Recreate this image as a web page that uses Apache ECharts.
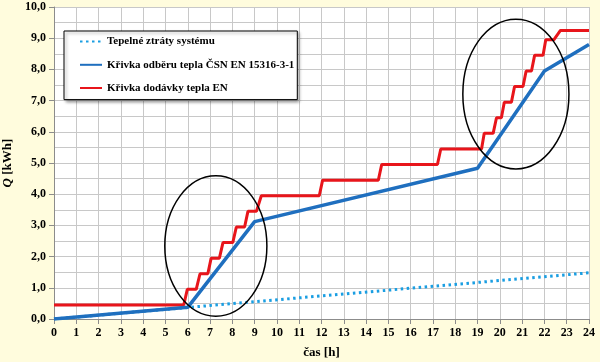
<!DOCTYPE html>
<html>
<head>
<meta charset="utf-8">
<script src="https://cdn.jsdelivr.net/npm/echarts@6/dist/echarts.min.js"></script>
<style>
html,body{margin:0;padding:0;background:#FFFCDD;}
#c{width:600px;height:362px;}
</style>
</head>
<body>
<div id="c"></div>
<script>
// Data (hours, kWh)
const lossName = 'Tepelné ztráty systému';
const demandName = 'Křivka odběru tepla ČSN EN 15316-3-1';
const supplyName = 'Křivka dodávky tepla EN';

const lossX = [0, 24];
const lossY = [0, 1.48];

const demandX = [0, 6, 9, 19, 22, 24];
const demandY = [0, 0.375, 3.12, 4.83, 7.95, 8.8];

const supplyX = [0, 5.82, 5.98, 6.38, 6.55, 6.9, 7.05, 7.42, 7.58, 8.02, 8.18, 8.55, 8.7, 9.08, 9.3,
  11.9, 12.05, 14.55, 14.7, 17.2, 17.35, 19.18, 19.3, 19.7, 19.85, 20.07, 20.2, 20.52, 20.66, 21.04,
  21.18, 21.42, 21.56, 21.94, 22.06, 22.42, 22.72, 24];
const supplyY = [0.45, 0.45, 0.95, 0.95, 1.45, 1.45, 1.95, 1.95, 2.45, 2.45, 2.95, 2.95, 3.45, 3.45, 3.95,
  3.95, 4.45, 4.45, 4.95, 4.95, 5.45, 5.45, 5.95, 5.95, 6.45, 6.45, 6.95, 6.95, 7.45, 7.45,
  7.95, 7.95, 8.45, 8.45, 8.95, 8.95, 9.25, 9.25];

// highlight ellipses: center x (h), center y (kWh), radius x (h), radius y (kWh)
const ellipseCX = [7.26, 20.72];
const ellipseCY = [2.34, 7.21];
const ellipseRX = [2.29, 2.38];
const ellipseRY = [2.25, 2.40];

const xTicks = [0, 24, 1];
const yTicks = [0, 10, 1];

const zip = (a, b) => a.map((v, i) => [v, b[i]]);
const font = 'Liberation Serif';

const chart = echarts.init(document.getElementById('c'), null, {renderer: 'canvas'});
chart.setOption({
  backgroundColor: '#FFFCDD',
  animation: false,
  grid: {left: 54, right: 11, top: 7, bottom: 43, show: true, backgroundColor: '#ffffff', borderWidth: 0,
    containLabel: false, outerBoundsMode: 'none'},
  legend: {
    orient: 'vertical', left: 64, top: 31,
    padding: [5, 3, 6, 15], itemGap: 12, itemWidth: 22, itemHeight: 14,
    backgroundColor: '#ffffff', borderColor: '#000000', borderWidth: 1, borderRadius: 0,
    shadowColor: 'rgba(0,0,0,0.35)', shadowBlur: 3, shadowOffsetX: 2, shadowOffsetY: 2,
    itemStyle: {color: 'transparent', borderWidth: 0, opacity: 0},
    textStyle: {fontFamily: font, fontWeight: 'bold', fontSize: 11, color: '#000'},
    data: [lossName, demandName, supplyName]
  },
  xAxis: {
    type: 'value', min: xTicks[0], max: xTicks[1], interval: xTicks[2],
    name: 'čas [h]', nameLocation: 'middle', nameGap: 27,
    nameTextStyle: {fontFamily: font, fontWeight: 'bold', fontSize: 13, color: '#000'},
    axisLine: {lineStyle: {color: '#8c8c8c', width: 1}},
    axisTick: {show: true, length: 5, lineStyle: {color: '#8c8c8c'}},
    axisLabel: {fontFamily: font, fontWeight: 'bold', fontSize: 12, color: '#000', margin: 8},
    splitLine: {show: true, lineStyle: {color: '#c8c8c8', width: 1}}
  },
  yAxis: {
    type: 'value', min: yTicks[0], max: yTicks[1], interval: yTicks[2],
    name: '{i|Q} [kWh]', nameLocation: 'middle', nameGap: 36, nameRotate: 90,
    nameTextStyle: {fontFamily: font, fontWeight: 'bold', fontSize: 13, color: '#000',
      rich: {i: {fontFamily: font, fontWeight: 'bold', fontStyle: 'italic', fontSize: 13, color: '#000'}}},
    axisLine: {show: true, lineStyle: {color: '#8c8c8c', width: 1}},
    axisTick: {show: true, length: 5, lineStyle: {color: '#8c8c8c'}},
    axisLabel: {fontFamily: font, fontWeight: 'bold', fontSize: 12, color: '#000', margin: 8,
      formatter: v => v.toFixed(1).replace('.', ',')},
    splitLine: {show: true, lineStyle: {color: '#c8c8c8', width: 1}},
    minorTick: {show: false, splitNumber: 2},
    minorSplitLine: {show: true, lineStyle: {color: '#c8c8c8', width: 1}}
  },
  series: [
    {name: lossName, type: 'line', data: zip(lossX, lossY), symbol: 'none', z: 2,
      lineStyle: {color: '#1a9ee2', width: 3, type: [2.5, 3.5], cap: 'butt'}, itemStyle: {color: '#1a9ee2'}},
    {name: supplyName, type: 'line', data: zip(supplyX, supplyY), symbol: 'none', z: 3,
      lineStyle: {color: '#e8151b', width: 3}, itemStyle: {color: '#e8151b'}},
    {name: demandName, type: 'line', data: zip(demandX, demandY), symbol: 'none', z: 4,
      lineStyle: {color: '#1f6fbf', width: 3.5}, itemStyle: {color: '#1f6fbf'}}
  ]
});

const ellipses = ellipseCX.map((cx, i) => {
  const c = chart.convertToPixel({gridIndex: 0}, [cx, ellipseCY[i]]);
  const r = chart.convertToPixel({gridIndex: 0}, [cx + ellipseRX[i], ellipseCY[i] + ellipseRY[i]]);
  return {
    type: 'ellipse', z: 100,
    shape: {cx: c[0], cy: c[1], rx: Math.abs(r[0] - c[0]), ry: Math.abs(c[1] - r[1])},
    style: {fill: null, stroke: '#000', lineWidth: 1.5}
  };
});
chart.setOption({graphic: ellipses});
</script>
</body>
</html>
